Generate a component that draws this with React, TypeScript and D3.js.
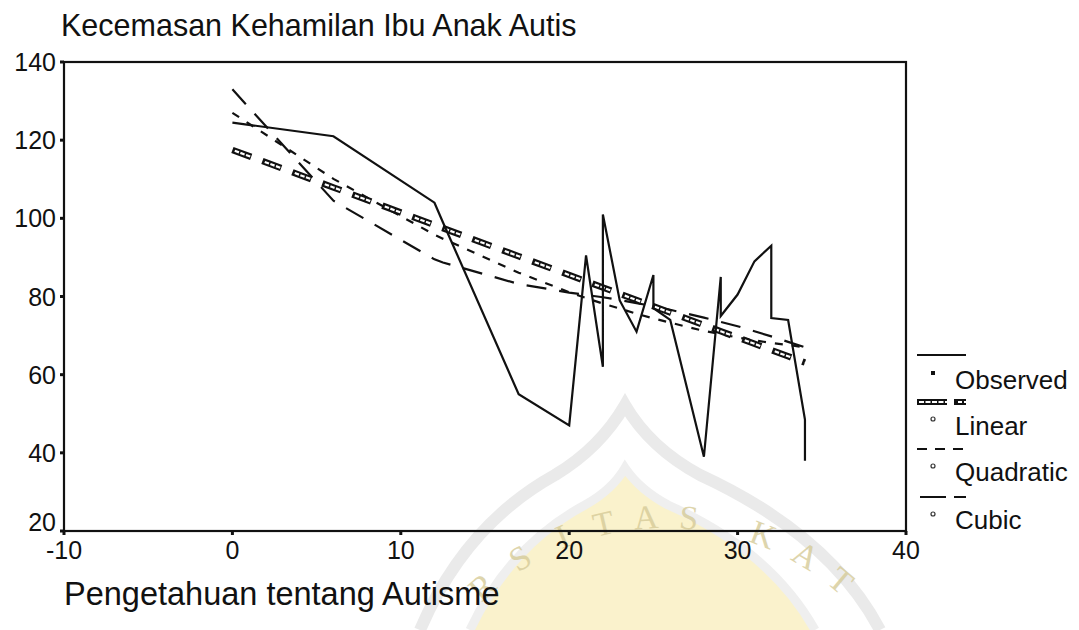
import React from 'react';
import * as d3 from 'd3';

// ---- data ----
const xTicks = [-10, 0, 10, 20, 30, 40];
const yTicks = [20, 40, 60, 80, 100, 120, 140];

const obsX = [0, 6, 12, 12.5, 17, 20, 21, 22, 22, 23, 24, 25, 25, 26, 28, 29, 29, 30, 31, 32, 32, 33, 34, 34];
const obsY = [124.5, 121, 104, 99, 55, 47, 90.5, 62, 101, 79, 71, 85.5, 77, 74, 39, 85, 75, 80.5, 89, 93, 74.5, 74, 48.5, 38];

const fitX = [0, 6, 12, 12.5, 17, 20, 21, 22, 23, 24, 25, 26, 28, 29, 30, 31, 32, 33, 34];
const linearY = [117.5, 107.9, 98.3, 97.5, 90.3, 85.5, 83.9, 82.3, 80.7, 79.1, 77.5, 75.9, 72.7, 71.1, 69.5, 67.9, 66.3, 64.7, 63.1];
const quadY = [127, 110.1, 95.8, 94.8, 86.1, 81.1, 79.6, 78.2, 76.9, 75.6, 74.4, 73.3, 71.2, 70.4, 69.5, 68.8, 68.1, 67.6, 67.0];
const cubicY = [133, 104.5, 89.5, 88.7, 83.2, 81.0, 80.4, 79.8, 79.1, 78.3, 77.5, 76.6, 74.6, 73.5, 72.4, 71.1, 69.8, 68.4, 67.0];

const legendLabels = ['Observed', 'Linear', 'Quadratic', 'Cubic'];
const titleText = 'Kecemasan Kehamilan Ibu Anak Autis';
const xTitleText = 'Pengetahuan tentang Autisme';
const watermarkLetters = ['R', 'S', 'I', 'T', 'A', 'S', 'K', 'A', 'T'];

const FONT = '"Liberation Sans", Arial, Helvetica, sans-serif';

export default function App() {
  const W = 1079;
  const H = 630;
  const left = 64, right = 906, top = 62, bottom = 531;

  const x = d3.scaleLinear().domain([-10, 40]).range([left, right]);
  const y = d3.scaleLinear().domain([20, 140]).range([bottom, top]);

  const line = d3.line<[number, number]>().x(d => x(d[0])).y(d => y(d[1]));
  const obsPath = line(obsX.map((v, i) => [v, obsY[i]] as [number, number])) || '';
  const linPath = line(fitX.map((v, i) => [v, linearY[i]] as [number, number])) || '';
  const quadPath = line(fitX.map((v, i) => [v, quadY[i]] as [number, number])) || '';
  const cubPath = line(fitX.map((v, i) => [v, cubicY[i]] as [number, number])) || '';

  // watermark letters along an arc
  const wmCx = 665, wmCy = 790, wmR = 262;
  const wmAngles = [-42, -32, -22, -13, -4, 5, 21, 31, 40];

  const legX = 917;
  const legRows = [355, 402, 449, 497];

  return (
    <svg width={W} height={H} viewBox={`0 0 ${W} ${H}`} style={{ position: 'absolute', left: 0, top: 0, background: '#fff' }}>
      <rect x={0} y={0} width={W} height={H} fill="#fff" />

      {/* faint watermark */}
      <g opacity={0.55}>
        <path d="M 470 630 Q 510 545 585 505 Q 612 490 625 468 Q 640 490 668 505 Q 770 550 815 630 Z" fill="#f6e9a4" />
        <path d="M 420 630 Q 465 525 555 475 Q 600 448 625 405 Q 650 448 700 475 Q 830 535 880 630" fill="none" stroke="#d9d9d9" strokeWidth={12} />
        <path d="M 470 630 Q 510 545 585 505 Q 612 490 625 468 Q 640 490 668 505 Q 770 550 815 630" fill="none" stroke="#e2e2e2" strokeWidth={9} />
      </g>
      <g opacity={0.8}>
        {watermarkLetters.map((ch, i) => {
          const a = (wmAngles[i] * Math.PI) / 180;
          const px = wmCx + wmR * Math.sin(a);
          const py = wmCy - wmR * Math.cos(a);
          return (
            <text key={i} x={px} y={py} fontFamily="Liberation Serif, serif" fontSize={34} fill="#d6cb98" textAnchor="middle"
              transform={`rotate(${wmAngles[i]} ${px} ${py})`}>{ch}</text>
          );
        })}
      </g>

      {/* title */}
      <text x={61} y={36} fontFamily={FONT} fontSize={30.5} fill="#111">{titleText}</text>

      {/* frame */}
      <rect x={left} y={top} width={right - left} height={bottom - top} fill="none" stroke="#111" strokeWidth={2.2} />

      {/* y ticks */}
      {yTicks.map((t, i) => (
        <g key={'y' + t}>
          <line x1={left - 4} x2={left} y1={y(t)} y2={y(t)} stroke="#111" strokeWidth={3} />
          <text x={56} y={i === 0 ? y(t) : y(t) + 9} textAnchor="end" fontFamily={FONT} fontSize={25} fill="#111">{t}</text>
        </g>
      ))}

      {/* x ticks */}
      {xTicks.map(t => (
        <g key={'x' + t}>
          <line x1={x(t)} x2={x(t)} y1={bottom} y2={bottom + 4} stroke="#111" strokeWidth={3} />
          <text x={x(t)} y={559} textAnchor="middle" fontFamily={FONT} fontSize={25} fill="#111">{t}</text>
        </g>
      ))}

      {/* x axis title */}
      <text x={64} y={605} fontFamily={FONT} fontSize={32.5} fill="#111">{xTitleText}</text>

      {/* fitted curves */}
      <path d={cubPath} fill="none" stroke="#111" strokeWidth={2.2} strokeDasharray="20 13" />
      <path d={quadPath} fill="none" stroke="#111" strokeWidth={2.2} strokeDasharray="8 9" />
      <path d={linPath} fill="none" stroke="#111" strokeWidth={6.5} strokeDasharray="20 12" />
      <path d={linPath} fill="none" stroke="#fff" strokeWidth={2.2} strokeDasharray="0 2.5 4.5 1.5 4.5 1.5 4.5 13" />

      {/* observed */}
      <path d={obsPath} fill="none" stroke="#111" strokeWidth={2.2} strokeLinejoin="miter" />

      {/* legend */}
      <g fontFamily={FONT} fontSize={26} fill="#111">
        <line x1={legX} x2={legX + 49} y1={legRows[0]} y2={legRows[0]} stroke="#111" strokeWidth={2.2} />
        <rect x={931} y={371} width={4} height={4} fill="#111" />
        <text x={955} y={389}>{legendLabels[0]}</text>

        <line x1={legX} x2={legX + 49} y1={legRows[1]} y2={legRows[1]} stroke="#111" strokeWidth={6} strokeDasharray="30 7 12 50" />
        <line x1={legX} x2={legX + 49} y1={legRows[1]} y2={legRows[1]} stroke="#fff" strokeWidth={2} strokeDasharray="0 2 5 1.5 5 1.5 5 1.5 5 1.5 4 9 4 2 4 50" />
        <circle cx={933} cy={419} r={2} fill="none" stroke="#333" strokeWidth={1.2} />
        <text x={955} y={435}>{legendLabels[1]}</text>

        <line x1={legX} x2={legX + 46} y1={legRows[2]} y2={legRows[2]} stroke="#111" strokeWidth={2.2} strokeDasharray="10 8" />
        <circle cx={933} cy={466} r={2} fill="none" stroke="#333" strokeWidth={1.2} />
        <text x={955} y={481}>{legendLabels[2]}</text>

        <line x1={920} x2={966} y1={legRows[3]} y2={legRows[3]} stroke="#111" strokeWidth={2.2} strokeDasharray="26 8 12 50" />
        <circle cx={933} cy={514} r={2} fill="none" stroke="#333" strokeWidth={1.2} />
        <text x={955} y={529}>{legendLabels[3]}</text>
      </g>
    </svg>
  );
}
